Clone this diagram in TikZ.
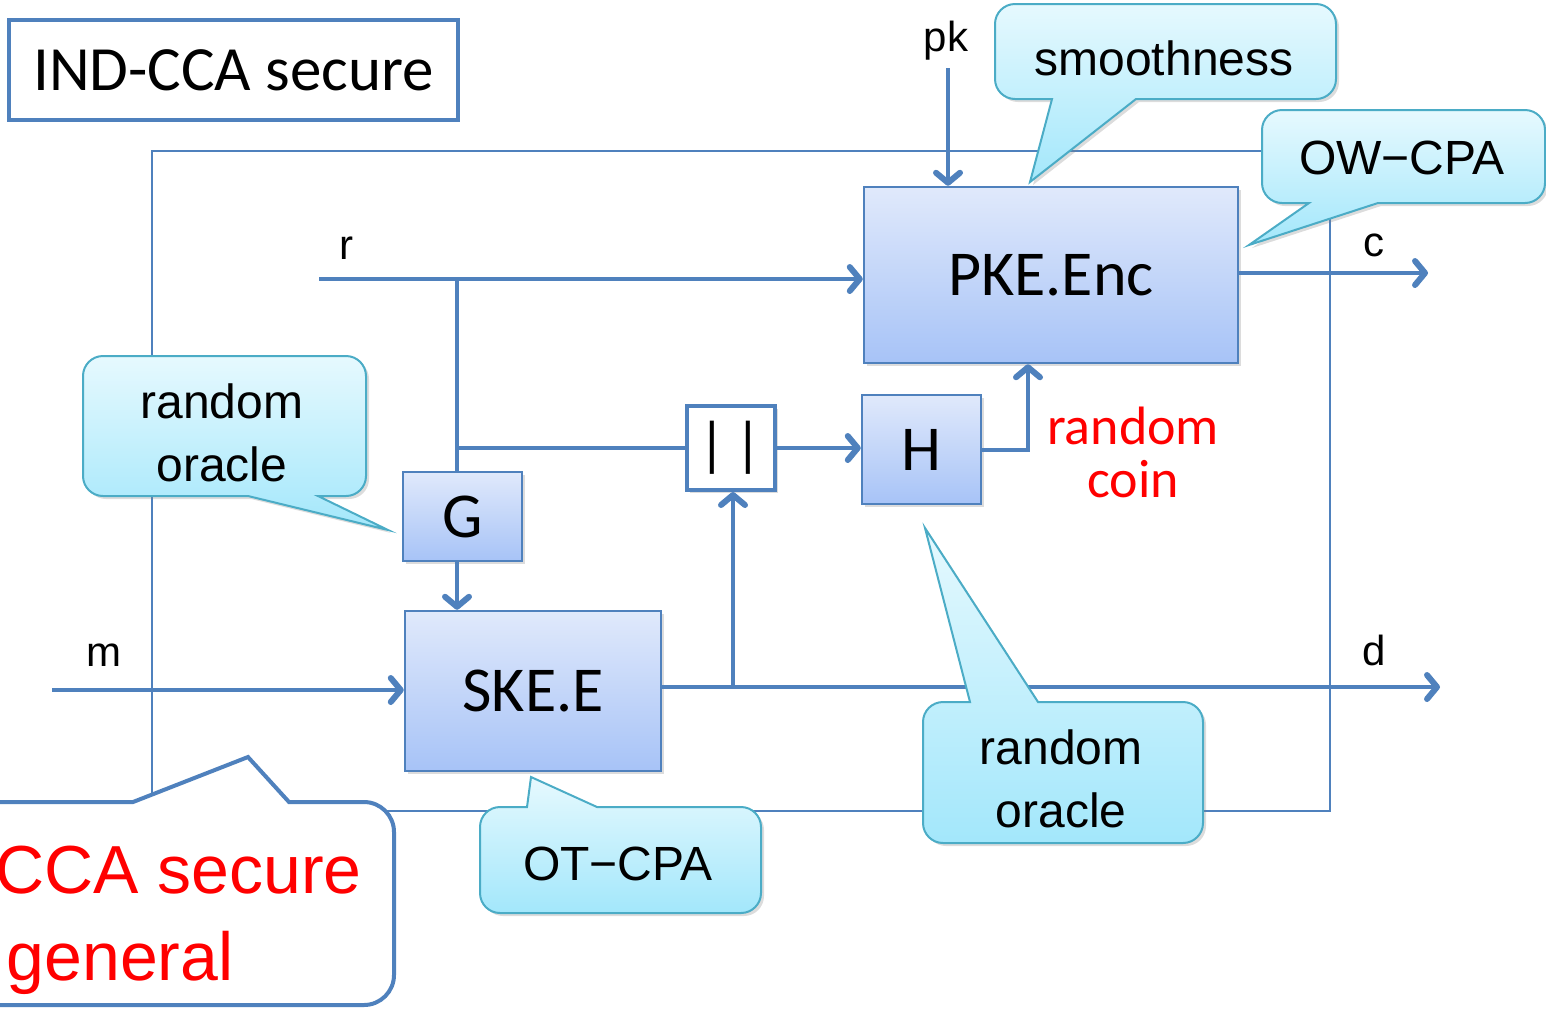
\documentclass[tikz,border=0pt]{standalone}
\usepackage{fontspec}
\setmainfont{Carlito}
\newfontfamily\gothic{Liberation Sans}
\usetikzlibrary{arrows.meta,shadows}

\definecolor{lineblue}{HTML}{4F81BD}
\definecolor{boxtop}{HTML}{E0E9FB}
\definecolor{boxbot}{HTML}{A7C3F7}
\definecolor{cotop}{HTML}{E6F9FE}
\definecolor{cobot}{HTML}{A3E7FB}
\definecolor{coline}{HTML}{4BACC6}
\definecolor{alert}{HTML}{FF0000}

\begin{document}
\begin{tikzpicture}[x=0.5pt,y=-0.5pt,
  softshadow/.style={drop shadow={opacity=0.28,shadow xshift=1.5pt,shadow yshift=-1.5pt}},
  block/.style={draw=lineblue, line width=1.25pt, top color=boxtop, bottom color=boxbot,
    inner sep=0pt, font=\fontsize{32}{36}\selectfont, softshadow},
  flow/.style={draw=lineblue, line width=2pt},
  arr/.style={flow, -{Straight Barb[length=5pt,width=12pt,line width=3pt,round]}},
  frame/.style={draw=lineblue, line width=1pt},
  callout/.style={draw=coline, line width=1pt, top color=cotop, bottom color=cobot, softshadow},
  cotext/.style={font=\gothic\fontsize{24}{31.5}\selectfont, align=center, inner sep=0pt},
  lbl/.style={font=\gothic\fontsize{21}{24}\selectfont, inner sep=0pt},
  redtext/.style={text=alert, inner sep=0pt},
]
\useasboundingbox (0,0) rectangle (1546,1008);
\clip (0,0) rectangle (1546,1008);

% outer frame of the construction
\draw[frame] (152,151) rectangle (1330,811);

% title box
\node[draw=lineblue, line width=2pt, minimum width=224.5pt, minimum height=50pt,
      font=\fontsize{31.5}{36}\selectfont] (ind) at (233.5,70) {IND-CCA secure};

% building blocks
\node[block, minimum width=187pt, minimum height=88pt] (pke) at (1051,275) {PKE.Enc};
\node[block, minimum width=128pt, minimum height=80pt] (ske) at (533,691) {SKE.E};
\node[block, minimum width=59.5pt, minimum height=44.5pt] (g) at (462.5,516.5) {G};
\node[block, minimum width=59.5pt, minimum height=54.5pt] (h) at (921.5,449.5) {H};
\node[draw=lineblue, line width=2pt, fill=white, minimum width=44pt, minimum height=42pt,
      inner sep=0pt, font=\fontsize{30}{36}\selectfont, softshadow] (cat) at (730.5,448) {|\kern4pt|};

% wire end points and junctions
\coordinate (rin) at (319,279);
\coordinate (rj) at (457,279);
\coordinate (pkin) at (948,68);
\coordinate (min) at (52,690);
\coordinate (dout) at (1440,687);
\coordinate (dj) at (733,687);
\coordinate (hc) at (1028,300);
\coordinate (cout) at (1428,273);

% wires
\draw[arr] (rin) -- (rin -| pke.west);
\draw[flow] (rj) -- (rj |- g.north);
\draw[flow] (rj |- cat.west) -- (cat.west);
\draw[arr] (rj |- g.south) -- (rj |- ske.north);
\draw[arr] (pkin) -- (pkin |- pke.north);
\draw[arr] (min) -- (min -| ske.west);
\draw[arr] (dout -| ske.east) -- (dout);
\draw[arr] (dj) -- (dj |- cat.south);
\draw[arr] (cat.east) -- (cat.east -| h.west);
\draw[arr] (h.east) -| (hc |- pke.south);
\draw[arr] (cout -| pke.east) -- (cout);

% wire labels
\node[lbl] (lr) at (346,248) {r};
\node[lbl] (lm) at (104,655) {m};
\node[lbl] (lc) at (1374,245) {c};
\node[lbl] (ld) at (1374,650) {d};
\node[lbl] (lpk) at (946,41) {pk};

% callouts
\path[callout] (1015,4) -- (1316,4) arc(270:360:20) -- (1336,79) arc(0:90:20)
  -- (1136,99) -- (1030,182) -- (1052,99) -- (1015,99) arc(90:180:20)
  -- (995,24) arc(180:270:20) -- cycle;
\node[cotext] (smooth) at (1164,58) {smoothness};

\path[callout] (1282,110) -- (1525,110) arc(270:360:20) -- (1545,183) arc(0:90:20)
  -- (1378,203) -- (1249,245) -- (1309,203) -- (1282,203) arc(90:180:20)
  -- (1262,130) arc(180:270:20) -- cycle;
\node[cotext] (owcpa) at (1402,158) {OW−CPA};

\path[callout] (103,356) -- (346,356) arc(270:360:20) -- (366,476) arc(0:90:20)
  -- (318,496) -- (388,530) -- (248,496) -- (103,496) arc(90:180:20)
  -- (83,376) arc(180:270:20) -- cycle;
\node[cotext] (roG) at (222,433) {random\\oracle};

\path[callout] (943,702) -- (970,702) -- (925,528) -- (1038,702) -- (1183,702)
  arc(270:360:20) -- (1203,823) arc(0:90:20) -- (943,843) arc(90:180:20)
  -- (923,722) arc(180:270:20) -- cycle;
\node[cotext] (roH) at (1061,779) {random\\oracle};

\path[callout] (500,807) -- (527,807) -- (531,777) -- (597,807) -- (741,807)
  arc(270:360:20) -- (761,893) arc(0:90:20) -- (500,913) arc(90:180:20)
  -- (480,827) arc(180:270:20) -- cycle;
\node[cotext] (otcpa) at (618,864) {OT−CPA};

% note on the randomness of the public-key encryption
\node[redtext, align=center, font=\fontsize{27}{26.5}\selectfont] (coin) at (1133,452) {random\\coin};

% general-case speech box
\draw[draw=lineblue, line width=2pt, fill=white]
  (-60,802) -- (133,802) -- (248,757) -- (289,802) -- (364,802) arc(270:360:30)
  -- (394,975) arc(0:90:30) -- (-60,1005) -- cycle;
\node[redtext, anchor=base east, font=\gothic\fontsize{34}{40}\selectfont] (gen1) at (362,893) {CCA secure};
\node[redtext, anchor=base east, font=\gothic\fontsize{34}{40}\selectfont] (gen2) at (234,980) {general};
\end{tikzpicture}
\end{document}
